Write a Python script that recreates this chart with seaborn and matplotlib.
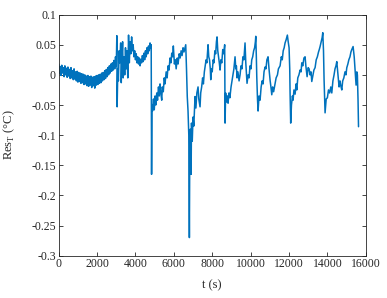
import matplotlib
matplotlib.use("Agg")
import matplotlib.pyplot as plt
import seaborn as sns
import pandas as pd

# residual temperature trace
time_s = [
    0, 40, 80, 120, 160, 200, 240, 280, 320, 360, 400, 440, 480, 520, 560, 600,
    640, 680, 720, 760, 800, 840, 880, 920, 960, 1000, 1040, 1080, 1120, 1160,
    1200, 1240, 1280, 1320, 1360, 1400, 1440, 1480, 1520, 1560, 1600, 1640,
    1680, 1720, 1760, 1800, 1840, 1880, 1920, 1960, 2000, 2040, 2080, 2120,
    2160, 2200, 2240, 2280, 2320, 2360, 2400, 2440, 2480, 2520, 2560, 2600,
    2640, 2680, 2720, 2760, 2800, 2840, 2880,
    2920, 2960, 3000, 3030, 3045, 3080, 3110, 3150, 3180, 3230, 3260, 3290,
    3330, 3360, 3400, 3440, 3480, 3520, 3560, 3600, 3640, 3680, 3720, 3760,
    3800, 3840, 3880, 3920, 3960, 4000, 4040, 4080, 4120, 4160, 4200, 4240,
    4280, 4320, 4360, 4400, 4440, 4480, 4520, 4560, 4600, 4640, 4680, 4720,
    4760, 4790, 4820, 4840, 4860, 4890,
    4900, 4940, 4980, 5020, 5060, 5110, 5150, 5200, 5240, 5281, 5320, 5369,
    5400, 5450, 5500, 5541, 5600, 5650, 5700, 5750, 5800, 5850, 5891, 5940,
    5974, 6000, 6030, 6080, 6120, 6180, 6220, 6280, 6330, 6380, 6430, 6480,
    6530, 6620, 6660, 6700, 6740, 6780, 6810, 6830, 6860, 6900, 6920,
    6960, 7000, 7040, 7105, 7150, 7200, 7262, 7300, 7366, 7400, 7450, 7500,
    7540, 7590, 7627, 7680, 7720, 7760, 7783, 7820, 7860, 7900, 7924, 7960,
    8000, 8050, 8090, 8140, 8180, 8220, 8252, 8290, 8330, 8370, 8409, 8450,
    8500, 8549, 8600, 8650, 8670, 8700, 8740, 8790, 8826, 8870, 8920, 8982,
    9030, 9080, 9130, 9160, 9190, 9230, 9260, 9294, 9340, 9400, 9451, 9500,
    9550, 9600, 9650, 9690, 9711, 9750, 9790, 9815, 9870, 9920, 9970, 10020,
    10060, 10110, 10160, 10210, 10250, 10270, 10300, 10322, 10360, 10390,
    10440, 10494, 10550, 10600, 10650, 10700, 10755, 10800, 10850, 10911,
    10960, 11020, 11060, 11104, 11150, 11200, 11276, 11330, 11400, 11450,
    11537, 11600, 11650, 11700, 11750, 11797, 11850, 11917, 11960, 12006,
    12040, 12058, 12090, 12130, 12180, 12214, 12260, 12320, 12370, 12407,
    12460, 12520, 12580, 12630, 12668, 12720, 12780, 12840, 12880, 12945,
    13000, 13050, 13100, 13150, 13189, 13250, 13300, 13361, 13420, 13480,
    13540, 13580, 13622, 13680, 13730, 13762, 13800, 13830, 13882, 13940,
    14002, 14060, 14120, 14180, 14232, 14290, 14350, 14400, 14450, 14492,
    14540, 14580, 14612, 14660, 14700, 14753, 14800, 14860, 14920, 14970,
    15014, 15070, 15120, 15180, 15230, 15274, 15342, 15400, 15446, 15480,
    15498, 15535, 15566, 15600, 15625,
]

res_T = [
    0.018, 0.002, 0.014, -0.001, 0.016, 0.003, 0.012, -0.003, 0.015, 0.000,
    0.011, -0.004, 0.013, -0.002, 0.009, -0.006, 0.012, -0.005, 0.007, -0.008,
    0.010, -0.007, 0.005, -0.010, 0.006, -0.012, 0.004, -0.011, 0.003, -0.014,
    0.002, -0.013, 0.001, -0.016, 0.000, -0.015, -0.002, -0.018, -0.001,
    -0.019, -0.003, -0.017, -0.002, -0.021, -0.004, -0.018, -0.003, -0.022,
    -0.002, -0.017, -0.001, -0.016, 0.000, -0.014, 0.001, -0.013, 0.003,
    -0.010, 0.004, -0.008, 0.007, -0.006, 0.009, -0.003, 0.012, 0.000, 0.015,
    0.003, 0.018, 0.006, 0.020, 0.008, 0.024,
    0.010, 0.030, 0.015, 0.065, -0.053, 0.010, -0.010, 0.040, 0.020, 0.053,
    -0.013, 0.020, 0.055, -0.005, 0.030, 0.000, 0.045, 0.010, 0.040, -0.005,
    0.066, 0.020, 0.055, 0.035, 0.063, 0.040, 0.050, 0.030, 0.040, 0.025,
    0.035, 0.020, 0.030, 0.018, 0.028, 0.015, 0.026, 0.020, 0.032, 0.022,
    0.036, 0.025, 0.040, 0.030, 0.045, 0.035, 0.048, 0.040, 0.053, 0.045,
    0.050, -0.165, -0.050, -0.060,
    -0.055, -0.040, -0.058, -0.035, -0.050, -0.030, -0.042, -0.020, -0.035,
    -0.015, -0.030, -0.042, -0.020, -0.028, -0.005, -0.015, 0.005, -0.005,
    0.015, 0.008, 0.028, 0.020, 0.036, 0.030, 0.048, 0.035, 0.018, 0.025,
    0.010, 0.028, 0.018, 0.035, 0.028, 0.040, 0.032, 0.045, 0.038, 0.050,
    0.010, -0.036, -0.060, -0.100, -0.270, -0.120, -0.090, -0.165, -0.080,
    -0.110, -0.070, -0.085, -0.036, -0.055, -0.030, -0.020, -0.040, -0.053,
    -0.030, -0.020, -0.005, -0.015, 0.005, 0.013, 0.025, 0.020, 0.040, 0.050,
    0.030, 0.025, 0.010, -0.008, 0.010, 0.005, 0.025, 0.020, 0.040, 0.035,
    0.055, 0.063, 0.040, 0.030, 0.020, 0.008, 0.025, 0.020, 0.042, 0.035,
    0.050, -0.080, -0.030, -0.045, -0.035, -0.047, -0.030, -0.038, -0.020,
    -0.010, 0.000, 0.010, 0.020, 0.030, 0.010, 0.015, -0.005, 0.005, -0.010,
    0.000, 0.015, 0.010, 0.030, 0.025, 0.045, 0.053, 0.020, 0.000, -0.014,
    0.000, -0.005, 0.015, 0.010, 0.025, 0.030, 0.040, 0.045, 0.055, 0.064,
    0.030, -0.003, -0.040, -0.060, -0.035, -0.042, -0.020, -0.010, -0.015,
    0.005, 0.013, 0.010, 0.025, 0.030, 0.010, -0.010, -0.020, -0.033, -0.020,
    -0.028, -0.015, -0.005, 0.000, 0.010, 0.015, 0.030, 0.025, 0.040, 0.045,
    0.053, 0.058, 0.066, 0.055, 0.045, 0.010, -0.030, -0.080, -0.050, -0.035,
    -0.042, -0.025, -0.032, -0.015, -0.025, -0.005, 0.000, 0.008, 0.005,
    0.020, 0.015, 0.028, 0.030, 0.015, -0.003, 0.012, 0.010, 0.000, 0.005,
    -0.011, 0.000, 0.008, 0.012, 0.025, 0.030, 0.038, 0.042, 0.047, 0.055,
    0.062, 0.070, 0.040, -0.008, -0.063, -0.040, -0.038, -0.025, -0.030,
    -0.020, -0.030, -0.010, 0.000, 0.010, 0.015, 0.022, 0.005, -0.010,
    -0.020, -0.010, -0.018, -0.025, -0.010, -0.005, 0.005, 0.000, 0.012,
    0.018, 0.025, 0.030, 0.038, 0.042, 0.047, 0.030, 0.008, -0.010, -0.017,
    0.005, 0.000, -0.042, -0.086,
]

y_ticks = [0.1, 0.05, 0, -0.05, -0.1, -0.15, -0.2, -0.25, -0.3]
y_tick_labels = ["0.1", "0.05", "0", "-0.05", "-0.1", "-0.15", "-0.2", "-0.25", "-0.3"]
x_ticks = [0, 2000, 4000, 6000, 8000, 10000, 12000, 14000, 16000]

sns.set_style("ticks")
plt.rcParams["font.family"] = ["Liberation Serif", "DejaVu Serif"]
plt.rcParams["mathtext.fontset"] = "custom"
plt.rcParams["mathtext.rm"] = "Liberation Serif"
plt.rcParams["axes.unicode_minus"] = False

df = pd.DataFrame({"t": time_s, "res": res_T})

fig = plt.figure(figsize=(3.87, 2.98), dpi=100)
ax = fig.add_axes([0.1517, 0.142, 0.7933, 0.809])

sns.lineplot(data=df, x="t", y="res", ax=ax, color="#0072BD",
             linewidth=1.1, estimator=None, sort=False)

ax.set_xlim(0, 16000)
ax.set_ylim(-0.3, 0.1)
ax.set_xticks(x_ticks)
ax.set_xticklabels([str(v) for v in x_ticks])
ax.set_yticks(y_ticks)
ax.set_yticklabels(y_tick_labels)

for side in ["top", "right", "left", "bottom"]:
    ax.spines[side].set_visible(True)
    ax.spines[side].set_color("#262626")
    ax.spines[side].set_linewidth(0.6)
ax.tick_params(direction="in", length=3, width=0.6, colors="#262626",
               labelsize=8.5, top=True, right=True, pad=2)

ax.set_xlabel("t (s)", fontsize=9, color="#262626", labelpad=6)
ax.set_ylabel("Res$_\\mathrm{T}$ (°C)", fontsize=9, color="#262626", labelpad=10)

fig.savefig("out.png", dpi=100)
